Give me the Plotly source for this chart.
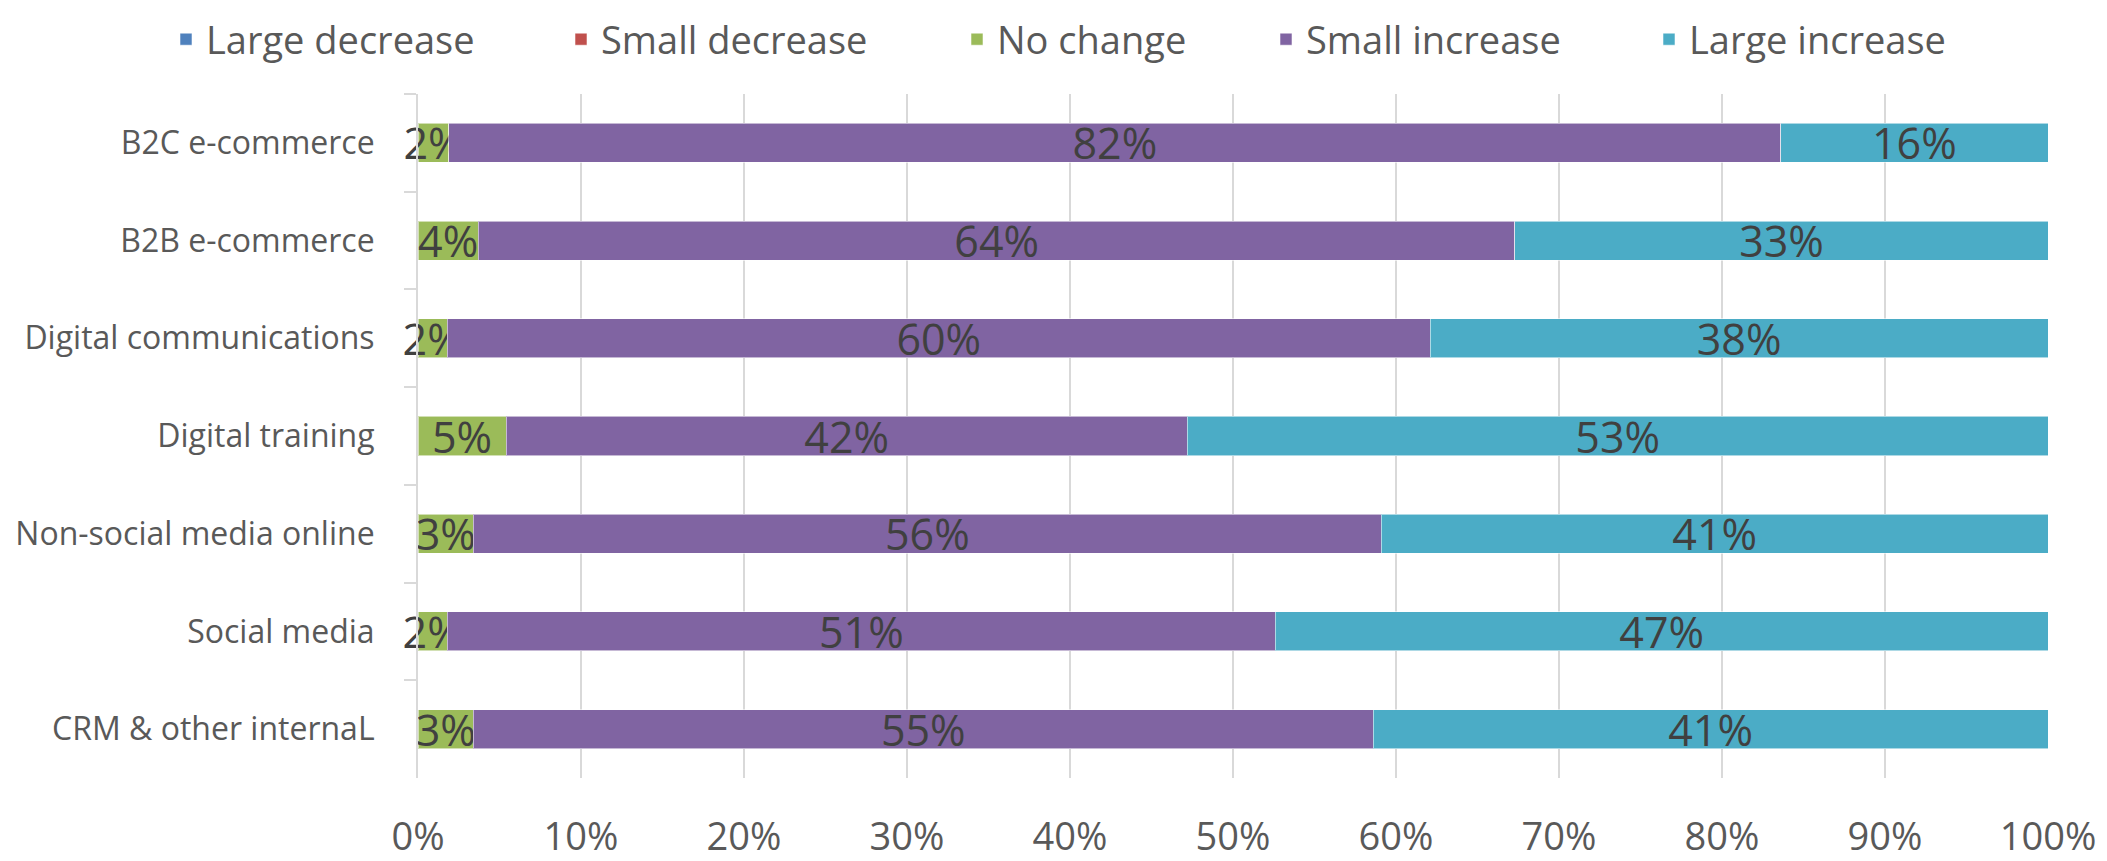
import plotly.graph_objects as go

categories = ["B2C e-commerce", "B2B e-commerce", "Digital communications",
              "Digital training", "Non-social media online", "Social media",
              "CRM & other internaL"]
series_names = ["Large decrease", "Small decrease", "No change", "Small increase", "Large increase"]
large_decrease = [0, 0, 0, 0, 0, 0, 0]
small_decrease = [0, 0, 0, 0, 0, 0, 0]
no_change = [1.9, 3.7, 1.8, 5.4, 3.4, 1.8, 3.4]
small_increase = [81.7, 63.6, 60.3, 41.8, 55.7, 50.8, 55.2]
large_increase = [16.4, 32.7, 37.9, 52.8, 40.9, 47.4, 41.4]
tick_vals = [0, 10, 20, 30, 40, 50, 60, 70, 80, 90, 100]
tick_labels = ["0%", "10%", "20%", "30%", "40%", "50%", "60%", "70%", "80%", "90%", "100%"]

colors = ["#4F81BD", "#C0504D", "#9BBB59", "#8064A2", "#4BACC6"]
values = [large_decrease, small_decrease, no_change, small_increase, large_increase]
show_text = [False, False, True, True, True]

W, H = 2107, 861
L, R, T, B = 410, 67, 86, 91
pw = W - L - R
ph = H - T - B

FONT = "Open Sans"
fig = go.Figure()
legend_text_px = [205, 600, 996, 1305, 1688]
for i, (name, vals, col, st) in enumerate(zip(series_names, values, colors, show_text)):
    lg = "legend" if i == 0 else f"legend{i+1}"
    fig.add_trace(go.Bar(
        y=categories, x=vals, name=name, orientation="h",
        marker=dict(color=col, line=dict(color="rgba(255,255,255,0.55)", width=1)),
        texttemplate="%{x:.0f}%" if st else None,
        textposition="inside" if st else "none",
        insidetextanchor="middle",
        constraintext="none",
        textangle=0,
        insidetextfont=dict(family=FONT, size=43, color="#404040"),
        cliponaxis=False,
        legend=lg,
        showlegend=True,
        hoverinfo="x+y+name",
    ))

layout_legends = {}
for i, px in enumerate(legend_text_px):
    key = "legend" if i == 0 else f"legend{i+1}"
    layout_legends[key] = dict(
        x=(px - 47 - L) / pw, xanchor="left",
        y=1, yref="container", yanchor="top",
        orientation="h", bgcolor="rgba(0,0,0,0)",
        font=dict(family=FONT, size=38, color="#595959"),
    )

fig.update_layout(
    width=W, height=H,
    margin=dict(l=L, r=R, t=T, b=B, pad=0, autoexpand=False),
    barmode="stack", bargap=0.6,
    showlegend=True,
    paper_bgcolor="white", plot_bgcolor="white",
    font=dict(family=FONT, color="#595959"),
    **layout_legends,
)
fig.update_xaxes(
    range=[0, 100], tickvals=tick_vals, ticktext=tick_labels,
    showgrid=True, gridcolor="#d9d9d9", gridwidth=2,
    zeroline=False, showline=False, ticks="",
    tickfont=dict(family=FONT, size=38, color="#595959"),
    ticklabelstandoff=33,
)
fig.update_yaxes(
    type="category", autorange="reversed",
    showline=True, linecolor="#d9d9d9", linewidth=2,
    ticks="outside", tickson="boundaries", ticklen=12, tickcolor="#d9d9d9", tickwidth=2,
    showgrid=False,
    tickfont=dict(family=FONT, size=32, color="#595959"),
    ticklabelstandoff=35,
)

fig.write_html("out.html")
